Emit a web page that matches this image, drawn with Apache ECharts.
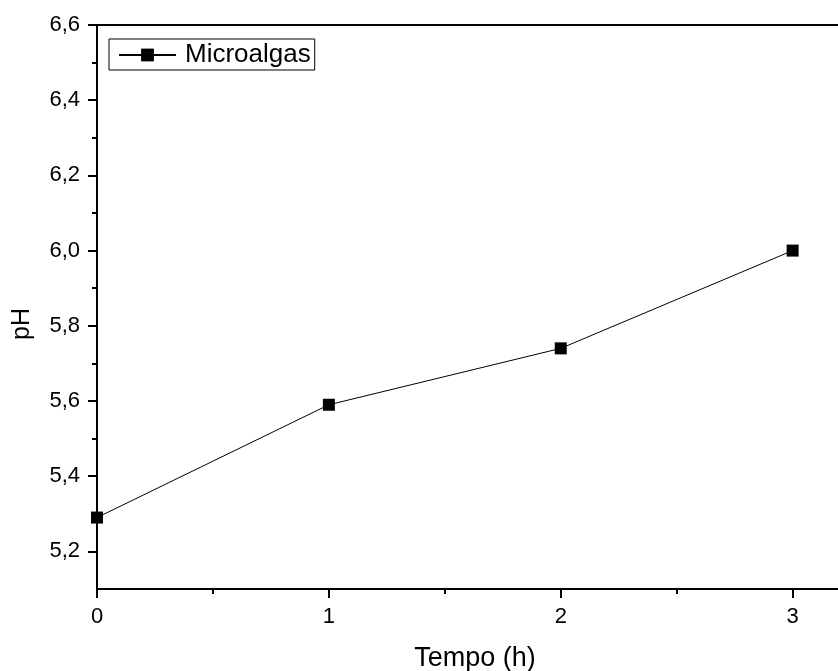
<!DOCTYPE html>
<html>
<head>
<meta charset="utf-8">
<script src="https://cdn.jsdelivr.net/npm/echarts@6/dist/echarts.min.js"></script>
<style>html,body{margin:0;padding:0;background:#fff}#c{width:838px;height:671px}</style>
</head>
<body>
<div id="c"></div>
<script>
const seriesName = "Microalgas";
const tempo = [0, 1, 2, 3];
const pH = [5.29, 5.59, 5.74, 6.00];
const xTicks = [0, 1, 2, 3];
const xMinorTicks = [0.5, 1.5, 2.5];
const yTicks = [5.2, 5.4, 5.6, 5.8, 6.0, 6.2, 6.4, 6.6];
const yMinorTicks = [5.3, 5.5, 5.7, 5.9, 6.1, 6.3, 6.5];
const xTitle = "Tempo (h)";
const yTitle = "pH";

const FONT = "Liberation Sans, Arial, sans-serif";
const chart = echarts.init(document.getElementById('c'));
const fmtX = v => String(v);
const fmtY = v => v.toFixed(1).replace('.', ',');
const baseX = {type: 'value', min: 0, max: 3.2, splitLine: {show: false}};
const baseY = {type: 'value', min: 5.1, max: 6.6, splitLine: {show: false}};
chart.setOption({
  animation: false,
  backgroundColor: '#fff',
  textStyle: {fontFamily: FONT},
  grid: {left: 97, top: 25, right: -1, bottom: 82, containLabel: false, outerBoundsMode: 'none'},
  legend: {
    left: 109, top: 39,
    borderColor: '#000', borderWidth: 1, borderRadius: 0,
    padding: [3, 4, 2, 9],
    itemWidth: 57, itemHeight: 16,
    textStyle: {fontSize: 26, color: '#000', fontFamily: FONT, padding: [0, 0, 0, 4]},
    data: [seriesName]
  },
  xAxis: [
    Object.assign({}, baseX, {
      position: 'bottom',
      name: xTitle, nameLocation: 'middle', nameGap: 56,
      nameTextStyle: {fontSize: 27, color: '#000', fontFamily: FONT, padding: [0, 0, 0, 14]},
      axisLine: {lineStyle: {color: '#000', width: 2}},
      axisTick: {customValues: xTicks, length: 9, lineStyle: {color: '#000', width: 2}},
      axisLabel: {customValues: xTicks, formatter: fmtX, fontSize: 22, color: '#000', margin: 17, fontFamily: FONT}
    }),
    Object.assign({}, baseX, {
      position: 'bottom',
      axisLine: {show: false},
      axisTick: {customValues: xMinorTicks, length: 5, lineStyle: {color: '#000', width: 2}},
      axisLabel: {show: false}
    }),
    Object.assign({}, baseX, {
      position: 'top',
      axisLine: {lineStyle: {color: '#000', width: 2}},
      axisTick: {show: false},
      axisLabel: {show: false}
    })
  ],
  yAxis: [
    Object.assign({}, baseY, {
      position: 'left',
      name: yTitle, nameLocation: 'middle', nameGap: 62,
      nameTextStyle: {fontSize: 25, color: '#000', fontFamily: FONT, padding: [0, 34, 0, 0]},
      axisLine: {lineStyle: {color: '#000', width: 2}},
      axisTick: {customValues: yTicks, length: 9, lineStyle: {color: '#000', width: 2}},
      axisLabel: {customValues: yTicks, formatter: fmtY, fontSize: 22, color: '#000', margin: 17, fontFamily: FONT}
    }),
    Object.assign({}, baseY, {
      position: 'left', offset: 0,
      axisLine: {show: false},
      axisTick: {customValues: yMinorTicks, length: 5, lineStyle: {color: '#000', width: 2}},
      axisLabel: {show: false}
    })
  ],
  series: [{
    name: seriesName,
    type: 'line',
    xAxisIndex: 0, yAxisIndex: 0,
    data: tempo.map((t, i) => [t, pH[i]]),
    symbol: 'rect', symbolSize: 12,
    itemStyle: {color: '#000'},
    lineStyle: {color: '#000', width: 1},
    clip: false
  }]
});
</script>
</body>
</html>
